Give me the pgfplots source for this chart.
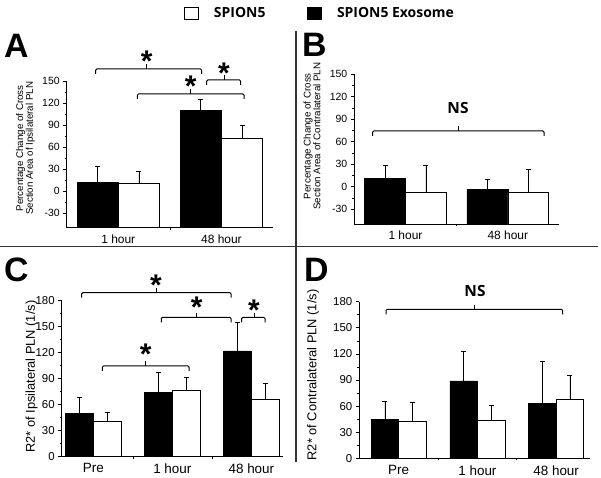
\documentclass[border=0pt]{standalone}
\usepackage{pgfplots}
\pgfplotsset{compat=1.18}
\usepackage{fontspec}
\setmainfont{Liberation Sans}
\newfontfamily\osans{Open Sans}
\newcommand\fs[1]{\fontsize{#1}{#1}\selectfont}
\newcommand\brk[4]{%
  \draw[line width=1bp, rounded corners=1.2bp] (#1,#3-5) -- (#1,#3) -- (#2,#3) -- (#2,#3-5);
  \draw[line width=1bp] (#4,#3) -- (#4,#3+4.5);}
\newcommand\sigstar[2]{\node[anchor=north, inner sep=0pt, font=\bfseries\fs{30}] at (#1,#2) {*};}
\pgfplotsset{
  panel/.style={
    scale only axis, ybar,
    axis x line*=bottom, axis y line*=left,
    axis line style={black, line width=0.7bp},
    tick align=outside, major tick length=3.5bp, minor tick length=2bp,
    tick style={black, line width=0.6bp},
    major x tick style={draw=none},
    minor y tick num=1,
    /pgf/number format/assume math mode=true,
    yticklabel style={font=\fs{10.5}},
    xticklabel style={font=\fs{12}},
    ylabel style={anchor=center, align=center},
  },
  errs/.style={
    error bars/y dir=plus, error bars/y explicit,
    error bars/error bar style={black, line width=0.6bp},
    error bars/error mark options={rotate=90, mark size=2.5bp, black, line width=0.6bp}},
  blk/.style={fill=black, draw=black, line width=0.6bp, errs},
  wht/.style={fill=white, draw=black, line width=0.6bp, errs},
  shifted/.style={
    y coord trafo/.code={\pgfmathparse{##1+50}},
    y coord inv trafo/.code={\pgfmathparse{##1-50}},
    ymin=-50, ymax=150,
    ytick={-30,0,30,60,90,120,150},
    yticklabels={-30,0,30,60,90,120,150},
  },
}
\begin{document}
\begin{tikzpicture}[x=1bp, y=1bp]
\useasboundingbox (0,0) rectangle (601,478);
% panel A
\begin{axis}[panel, shifted, at={(66.7bp,250.3bp)}, anchor=south west,
  width=206.3bp, height=146.7bp, xmin=0.5, xmax=2.5,
  xtick={1,2}, xticklabels={1 hour,48 hour}, minor xtick={1.5},
  ylabel={Percentage Change of Cross\\Section Area of Ipsilateral PLN},
  ylabel style={font=\fs{9.8}, at={(axis description cs:-0.2,0.541)}},
  legend columns=2,
  legend style={draw=none, fill=none, at={(axis description cs:0.5686,1.4636)}, anchor=west,
    font=\osans\bfseries\fs{14}, inner sep=0pt,
    /tikz/every odd column/.append style={column sep=13bp},
    /tikz/every even column/.append style={column sep=40bp}},
]
\addplot[wht, bar shift=0.2, bar width=0.4,
  legend image code/.code={\draw[fill=white, draw=black, line width=0.8bp] (0bp,-6bp) rectangle (14bp,6bp);}]
  coordinates {(1,10) +- (0,16.5) (2,72.5) +- (0,17.5)};
\addlegendentry{SPION5}
\addplot[blk, bar shift=-0.2, bar width=0.4,
  legend image code/.code={\draw[fill=black, draw=black] (0bp,-6bp) rectangle (14bp,6bp);}]
  coordinates {(1,12) +- (0,22) (2,110) +- (0,15)};
\addlegendentry{SPION5 Exosome}
\end{axis}
% panel B
\begin{axis}[panel, shifted, at={(354.3bp,253.7bp)}, anchor=south west,
  width=204.7bp, height=150.3bp, xmin=0.5, xmax=2.5,
  xtick={1,2}, xticklabels={1 hour,48 hour}, minor xtick={1.5},
  ylabel={Percentage Change of Cross\\Section Area of Contralateral PLN},
  ylabel style={font=\fs{9.8}, at={(axis description cs:-0.207,0.587)}},
]
\addplot[blk, bar shift=-0.2, bar width=0.4]
  coordinates {(1,11) +- (0,18) (2,-3.5) +- (0,14)};
\addplot[wht, bar shift=0.2, bar width=0.4]
  coordinates {(1,-7.5) +- (0,36.5) (2,-8) +- (0,31)};
\end{axis}
% panel C
\begin{axis}[panel, at={(61.7bp,21.3bp)}, anchor=south west,
  width=221.3bp, height=156bp, xmin=0.6, xmax=3.4, ymin=0, ymax=180,
  ytick={0,30,60,90,120,150,180},
  xtick={1,2,3}, xticklabels={Pre,1 hour,48 hour}, minor xtick={1.5,2.5},
  yticklabel style={font=\fs{11.5}}, xticklabel style={font=\fs{13.5}},
  ylabel={R2* of Ipsilateral PLN (1/s)},
  ylabel style={font=\fs{12.9}, at={(axis description cs:-0.136,0.513)}},
]
\addplot[blk, bar shift=-0.175, bar width=0.35]
  coordinates {(1,50) +- (0,19) (2,74) +- (0,23) (3,122) +- (0,33.5)};
\addplot[wht, bar shift=0.175, bar width=0.35]
  coordinates {(1,41) +- (0,10) (2,77) +- (0,15) (3,66) +- (0,19)};
\end{axis}
% panel D
\begin{axis}[panel, at={(359.3bp,19.7bp)}, anchor=south west,
  width=230.7bp, height=156.6bp, xmin=0.5, xmax=3.43, ymin=0, ymax=180,
  ytick={0,30,60,90,120,150,180},
  xtick={1,2,3}, xticklabels={Pre,1 hour,48 hour}, minor xtick={1.5,2.5},
  yticklabel style={font=\fs{11.5}}, xticklabel style={font=\fs{13.5}},
  ylabel={R2* of Contralateral PLN (1/s)},
  ylabel style={font=\fs{12.9}, at={(axis description cs:-0.2,0.532)}},
]
\addplot[blk, bar shift=-0.175, bar width=0.35]
  coordinates {(1,45) +- (0,21) (2,89) +- (0,34) (3,63) +- (0,48)};
\addplot[wht, bar shift=0.175, bar width=0.35]
  coordinates {(1,43) +- (0,21) (2,44) +- (0,17) (3,68) +- (0,27.5)};
\end{axis}
% dividers
\draw[line width=1.8bp, black!80] (296,447) -- (296,16);
\draw[line width=1.8bp, black!80] (0,231.5) -- (598,231.5);
% panel letters
\node[anchor=base west, inner sep=0pt, font=\bfseries\fs{34}] at (4,420) {A};
\node[anchor=base west, inner sep=0pt, font=\bfseries\fs{34}] at (302,421) {B};
\node[anchor=base west, inner sep=0pt, font=\bfseries\fs{34}] at (4,196) {C};
\node[anchor=base west, inner sep=0pt, font=\bfseries\fs{34}] at (304,196) {D};
% brackets A
\brk{95.7}{201.7}{409}{146.7}
\brk{137.3}{244}{384}{190.7}
\brk{206.7}{240.7}{398}{224}
\sigstar{146.7}{427.3}
\sigstar{190.7}{402}
\sigstar{224}{415.7}
% bracket B
\brk{372.7}{544}{347}{458.3}
\node[font=\osans\bfseries\fs{15.5}] at (458,370.5) {NS};
% brackets C
\brk{81.7}{231}{185.3}{156}
\brk{161.3}{231}{160.7}{196}
\brk{241.7}{265}{160.7}{254}
\brk{102.3}{189}{112}{145.7}
\sigstar{156}{203.7}
\sigstar{196.7}{181.3}
\sigstar{254}{178}
\sigstar{145.7}{134}
% bracket D
\brk{386}{562.7}{168.7}{474}
\node[font=\osans\bfseries\fs{15.5}] at (475,187.2) {NS};
\end{tikzpicture}
\end{document}
